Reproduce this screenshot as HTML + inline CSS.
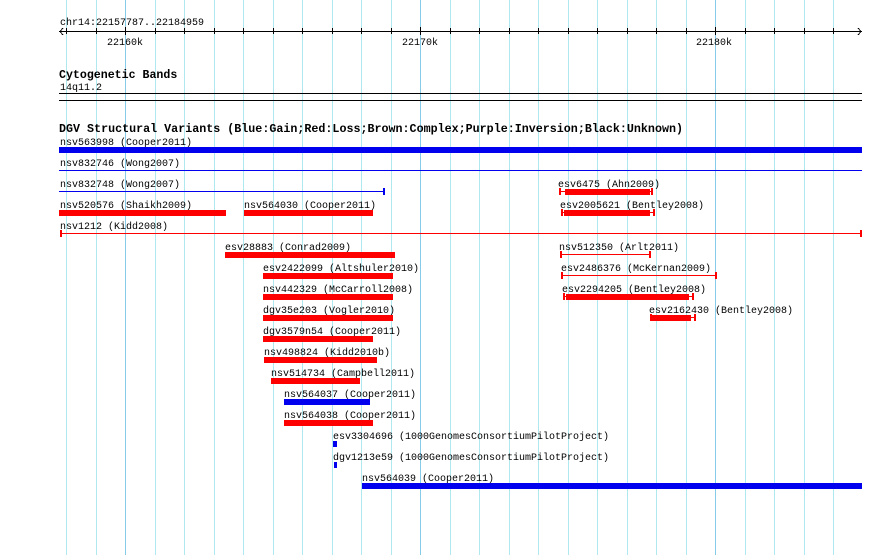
<!DOCTYPE html>
<html><head><meta charset="utf-8"><style>
html,body{margin:0;padding:0;background:#fff;width:890px;height:555px;overflow:hidden}
svg text{font-family:"Liberation Mono",monospace;font-size:10px;fill:#000}
svg text.b{font-weight:bold;font-size:11.6px}
</style></head><body>
<svg width="890" height="555" xmlns="http://www.w3.org/2000/svg" shape-rendering="crispEdges">
<g stroke="#b0e8f0">
<line x1="66.5" y1="0" x2="66.5" y2="555"/><line x1="96.5" y1="0" x2="96.5" y2="555"/>
<line x1="155.5" y1="0" x2="155.5" y2="555"/><line x1="184.5" y1="0" x2="184.5" y2="555"/>
<line x1="214.5" y1="0" x2="214.5" y2="555"/><line x1="243.5" y1="0" x2="243.5" y2="555"/>
<line x1="273.5" y1="0" x2="273.5" y2="555"/><line x1="302.5" y1="0" x2="302.5" y2="555"/>
<line x1="332.5" y1="0" x2="332.5" y2="555"/><line x1="361.5" y1="0" x2="361.5" y2="555"/>
<line x1="391.5" y1="0" x2="391.5" y2="555"/><line x1="450.5" y1="0" x2="450.5" y2="555"/>
<line x1="479.5" y1="0" x2="479.5" y2="555"/><line x1="509.5" y1="0" x2="509.5" y2="555"/>
<line x1="538.5" y1="0" x2="538.5" y2="555"/><line x1="568.5" y1="0" x2="568.5" y2="555"/>
<line x1="597.5" y1="0" x2="597.5" y2="555"/><line x1="627.5" y1="0" x2="627.5" y2="555"/>
<line x1="656.5" y1="0" x2="656.5" y2="555"/><line x1="686.5" y1="0" x2="686.5" y2="555"/>
<line x1="745.5" y1="0" x2="745.5" y2="555"/><line x1="774.5" y1="0" x2="774.5" y2="555"/>
<line x1="804.5" y1="0" x2="804.5" y2="555"/><line x1="833.5" y1="0" x2="833.5" y2="555"/>
</g>
<g stroke="#88cbe8">
<line x1="125.5" y1="0" x2="125.5" y2="555"/><line x1="420.5" y1="0" x2="420.5" y2="555"/><line x1="715.5" y1="0" x2="715.5" y2="555"/>
</g>
<g stroke="#000">
<line x1="66.5" y1="28" x2="66.5" y2="34"/><line x1="96.5" y1="28" x2="96.5" y2="34"/>
<line x1="125.5" y1="27" x2="125.5" y2="35"/><line x1="155.5" y1="28" x2="155.5" y2="34"/>
<line x1="184.5" y1="28" x2="184.5" y2="34"/><line x1="214.5" y1="28" x2="214.5" y2="34"/>
<line x1="243.5" y1="28" x2="243.5" y2="34"/><line x1="273.5" y1="28" x2="273.5" y2="34"/>
<line x1="302.5" y1="28" x2="302.5" y2="34"/><line x1="332.5" y1="28" x2="332.5" y2="34"/>
<line x1="361.5" y1="28" x2="361.5" y2="34"/><line x1="391.5" y1="28" x2="391.5" y2="34"/>
<line x1="420.5" y1="27" x2="420.5" y2="35"/><line x1="450.5" y1="28" x2="450.5" y2="34"/>
<line x1="479.5" y1="28" x2="479.5" y2="34"/><line x1="509.5" y1="28" x2="509.5" y2="34"/>
<line x1="538.5" y1="28" x2="538.5" y2="34"/><line x1="568.5" y1="28" x2="568.5" y2="34"/>
<line x1="597.5" y1="28" x2="597.5" y2="34"/><line x1="627.5" y1="28" x2="627.5" y2="34"/>
<line x1="656.5" y1="28" x2="656.5" y2="34"/><line x1="686.5" y1="28" x2="686.5" y2="34"/>
<line x1="715.5" y1="27" x2="715.5" y2="35"/><line x1="745.5" y1="28" x2="745.5" y2="34"/>
<line x1="774.5" y1="28" x2="774.5" y2="34"/><line x1="804.5" y1="28" x2="804.5" y2="34"/>
<line x1="833.5" y1="28" x2="833.5" y2="34"/>
</g>
<text x="60" y="25">chr14:22157787..22184959</text>
<line x1="59" y1="31.5" x2="862" y2="31.5" stroke="#000"/>
<polyline points="63,28 60,31.5 63,35" fill="none" stroke="#000"/>
<polyline points="858,28 861,31.5 858,35" fill="none" stroke="#000"/>
<text x="107" y="45">22160k</text>
<text x="402" y="45">22170k</text>
<text x="696" y="45">22180k</text>
<text class="b" x="59" y="78">Cytogenetic Bands</text>
<text x="60" y="90">14q11.2</text>
<line x1="59" y1="93.5" x2="862" y2="93.5" stroke="#000"/>
<line x1="59" y1="100.5" x2="862" y2="100.5" stroke="#000"/>
<text class="b" x="59" y="132" textLength="624" lengthAdjust="spacingAndGlyphs">DGV Structural Variants (Blue:Gain;Red:Loss;Brown:Complex;Purple:Inversion;Black:Unknown)</text>

<text x="60" y="145">nsv563998 (Cooper2011)</text>
<rect x="59" y="147" width="803" height="6" fill="#0000ee"/>
<text x="60" y="166">nsv832746 (Wong2007)</text>
<rect x="59" y="170" width="803" height="1" fill="#0000ee"/>
<text x="60" y="187">nsv832748 (Wong2007)</text>
<rect x="59" y="191" width="325" height="1" fill="#0000ee"/>
<rect x="383" y="188" width="2" height="7" fill="#0000ee"/>
<text x="558" y="187">esv6475 (Ahn2009)</text>
<rect x="559" y="191" width="93" height="1" fill="red"/><rect x="559" y="188" width="2" height="7" fill="red"/><rect x="651" y="188" width="2" height="7" fill="red"/><rect x="565" y="189" width="85" height="6" fill="red"/>
<text x="60" y="208">nsv520576 (Shaikh2009)</text>
<rect x="59" y="210" width="167" height="6" fill="red"/>
<text x="244" y="208">nsv564030 (Cooper2011)</text>
<rect x="244" y="210" width="129" height="6" fill="red"/>
<text x="560" y="208">esv2005621 (Bentley2008)</text>
<rect x="561" y="212" width="93" height="1" fill="red"/><rect x="561" y="209" width="2" height="7" fill="red"/><rect x="653" y="209" width="2" height="7" fill="red"/><rect x="564" y="210" width="86" height="6" fill="red"/>
<text x="60" y="229">nsv1212 (Kidd2008)</text>
<rect x="60" y="233" width="802" height="1" fill="red"/><rect x="60" y="230" width="2" height="7" fill="red"/><rect x="860" y="230" width="2" height="7" fill="red"/>
<text x="225" y="250">esv28883 (Conrad2009)</text>
<rect x="225" y="252" width="170" height="6" fill="red"/>
<text x="559" y="250">nsv512350 (Arlt2011)</text>
<rect x="560" y="254" width="90" height="1" fill="red"/><rect x="560" y="251" width="2" height="7" fill="red"/><rect x="649" y="251" width="2" height="7" fill="red"/>
<text x="263" y="271">esv2422099 (Altshuler2010)</text>
<rect x="263" y="273" width="130" height="6" fill="red"/>
<text x="561" y="271">esv2486376 (McKernan2009)</text>
<rect x="562" y="275" width="154" height="1" fill="red"/><rect x="561" y="272" width="2" height="7" fill="red"/><rect x="715" y="272" width="2" height="7" fill="red"/>
<text x="263" y="292">nsv442329 (McCarroll2008)</text>
<rect x="263" y="294" width="130" height="6" fill="red"/>
<text x="562" y="292">esv2294205 (Bentley2008)</text>
<rect x="563" y="296" width="130" height="1" fill="red"/><rect x="563" y="293" width="2" height="7" fill="red"/><rect x="692" y="293" width="2" height="7" fill="red"/><rect x="566" y="294" width="123" height="6" fill="red"/>
<text x="263" y="313">dgv35e203 (Vogler2010)</text>
<rect x="263" y="315" width="130" height="6" fill="red"/>
<text x="649" y="313">esv2162430 (Bentley2008)</text>
<rect x="650" y="317" width="45" height="1" fill="red"/><rect x="650" y="314" width="2" height="7" fill="red"/><rect x="694" y="314" width="2" height="7" fill="red"/><rect x="652" y="315" width="39" height="6" fill="red"/>
<text x="263" y="334">dgv3579n54 (Cooper2011)</text>
<rect x="263" y="336" width="110" height="6" fill="red"/>
<text x="264" y="355">nsv498824 (Kidd2010b)</text>
<rect x="264" y="357" width="113" height="6" fill="red"/>
<text x="271" y="376">nsv514734 (Campbell2011)</text>
<rect x="271" y="378" width="89" height="6" fill="red"/>
<text x="284" y="397">nsv564037 (Cooper2011)</text>
<rect x="284" y="399" width="86" height="6" fill="#0000ee"/>
<text x="284" y="418">nsv564038 (Cooper2011)</text>
<rect x="284" y="420" width="89" height="6" fill="red"/>
<text x="333" y="439">esv3304696 (1000GenomesConsortiumPilotProject)</text>
<rect x="333" y="441" width="4" height="6" fill="#0000ee"/>
<text x="333" y="460">dgv1213e59 (1000GenomesConsortiumPilotProject)</text>
<rect x="334" y="462" width="3" height="6" fill="#0000ee"/>
<text x="362" y="481">nsv564039 (Cooper2011)</text>
<rect x="362" y="483" width="500" height="6" fill="#0000ee"/>
</svg>
</body></html>
